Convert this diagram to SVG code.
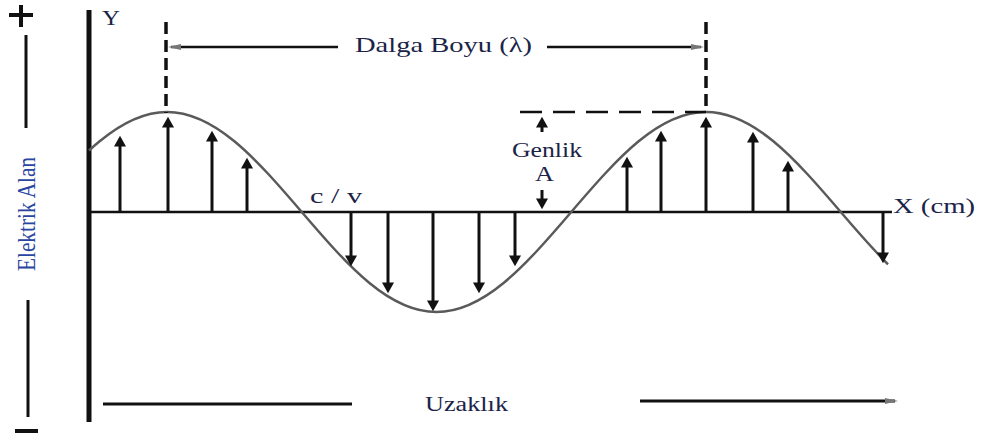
<svg xmlns="http://www.w3.org/2000/svg" width="981" height="437" viewBox="0 0 981 437">
<style>
.t{font-family:"Liberation Serif","Times New Roman",serif;fill:#1b2448;}
.ln{stroke:#111;fill:none;}
.arr{stroke:#111;stroke-width:3;fill:none;}
.up{marker-end:url(#hd);}
.dn{marker-end:url(#hd);}
</style>
<defs>
<marker id="hd" markerUnits="userSpaceOnUse" markerWidth="12" markerHeight="12" viewBox="0 0 10 10" refX="3" refY="5" orient="auto">
<path d="M0,0 L9,5 L0,10 z" fill="#111"/>
</marker>
<marker id="gh" markerUnits="userSpaceOnUse" markerWidth="14" markerHeight="8" viewBox="0 0 14 8" refX="10" refY="4" orient="auto">
<path d="M0,1 L13,4 L0,7 z" fill="#777"/>
</marker>
</defs>
<rect width="981" height="437" fill="#fff"/>

<g id="axes">
<line class="ln" x1="89" y1="10" x2="89" y2="422" stroke-width="5"/>
<line class="ln" x1="89" y1="212" x2="892" y2="212" stroke-width="2.5"/>
</g>

<g id="field-scale">
<line class="ln" x1="9" y1="15" x2="33" y2="15" stroke-width="4"/>
<line class="ln" x1="21" y1="5" x2="21" y2="27" stroke-width="4"/>
<line class="ln" x1="26" y1="35" x2="26" y2="128" stroke-width="3"/>
<line class="ln" x1="28" y1="300" x2="28" y2="417" stroke-width="3"/>
<line class="ln" x1="15" y1="431" x2="38" y2="431" stroke-width="4"/>
<text class="t" transform="translate(35,271) rotate(-90)" font-size="26" textLength="114" lengthAdjust="spacingAndGlyphs" style="fill:#2a45a0">Elektrik Alan</text>
</g>

<g id="labels">
<text class="t" x="102" y="25" font-size="21" textLength="18" lengthAdjust="spacingAndGlyphs">Y</text>
<text class="t" x="893" y="213" font-size="21" textLength="82" lengthAdjust="spacingAndGlyphs">X (cm)</text>
<text class="t" x="310" y="203" font-size="21" textLength="52" lengthAdjust="spacingAndGlyphs">c / v</text>
<text class="t" x="512" y="157" font-size="20" textLength="70" lengthAdjust="spacingAndGlyphs">Genlik</text>
<text class="t" x="535" y="181" font-size="20" textLength="19" lengthAdjust="spacingAndGlyphs">A</text>
<text class="t" x="355" y="52" font-size="22" textLength="177" lengthAdjust="spacingAndGlyphs">Dalga Boyu (λ)</text>
<text class="t" x="425" y="411" font-size="20" textLength="83" lengthAdjust="spacingAndGlyphs">Uzaklık</text>
</g>

<g id="wave">
<path d="M89,150.52 C92.54,147.26 96.08,144.21 99.625,141.29 C122.08,122.78 144.54,112 167,112 C189.46,112 211.92,122.78 234.375,141.29 C256.83,159.8 279.29,185.82 301.75,212 C324.21,238.18 346.67,264.2 369.125,282.71 C391.58,301.22 414.04,312 436.5,312 C458.96,312 481.42,301.22 503.875,282.71 C526.33,264.2 548.79,238.18 571.25,212 C593.71,185.82 616.17,159.8 638.625,141.29 C661.08,122.78 683.54,112 706,112 C728.46,112 750.92,122.78 773.375,141.29 C795.83,159.8 818.29,185.82 840.75,212 C856.5,230.36 872.25,248.65 888,264.3" fill="none" stroke="#5a5a5a" stroke-width="2.5"/>
</g>

<g id="connectors">
<line class="arr up" x1="120" y1="212" x2="120" y2="143"/>
<line class="arr up" x1="168" y1="212" x2="168" y2="124"/>
<line class="arr up" x1="212" y1="212" x2="212" y2="138"/>
<line class="arr up" x1="247" y1="212" x2="247" y2="165"/>
<line class="arr up" x1="627" y1="212" x2="627" y2="164"/>
<line class="arr up" x1="661" y1="212" x2="661" y2="138"/>
<line class="arr up" x1="706" y1="212" x2="706" y2="124"/>
<line class="arr up" x1="753" y1="212" x2="753" y2="139"/>
<line class="arr up" x1="788" y1="212" x2="788" y2="168"/>
<line class="arr dn" x1="351" y1="212" x2="351" y2="259"/>
<line class="arr dn" x1="388" y1="212" x2="388" y2="286"/>
<line class="arr dn" x1="433" y1="212" x2="433" y2="304"/>
<line class="arr dn" x1="479" y1="212" x2="479" y2="286"/>
<line class="arr dn" x1="515" y1="212" x2="515" y2="259"/>
<line class="arr dn" x1="883" y1="212" x2="883" y2="256"/>
<line class="ln" x1="166" y1="22" x2="166" y2="113" stroke-width="3.5" stroke-dasharray="12 6"/>
<line class="ln" x1="706" y1="22" x2="706" y2="112" stroke-width="3.5" stroke-dasharray="12 6"/>
<line class="ln" x1="338" y1="47" x2="171" y2="47" stroke-width="2.5" marker-end="url(#gh)"/>
<line class="ln" x1="547" y1="47" x2="701" y2="47" stroke-width="2.5" marker-end="url(#gh)"/>
<line class="ln" x1="520" y1="112" x2="706" y2="112" stroke-width="2.5" stroke-dasharray="22 11"/>
<line class="arr up" x1="542" y1="132" x2="542" y2="124"/>
<line class="arr dn" x1="542" y1="190" x2="542" y2="202"/>
<line class="ln" x1="103" y1="404" x2="352" y2="404" stroke-width="3"/>
<line class="ln" x1="640" y1="401" x2="895" y2="401" stroke-width="3" marker-end="url(#gh)"/>
</g>
</svg>
